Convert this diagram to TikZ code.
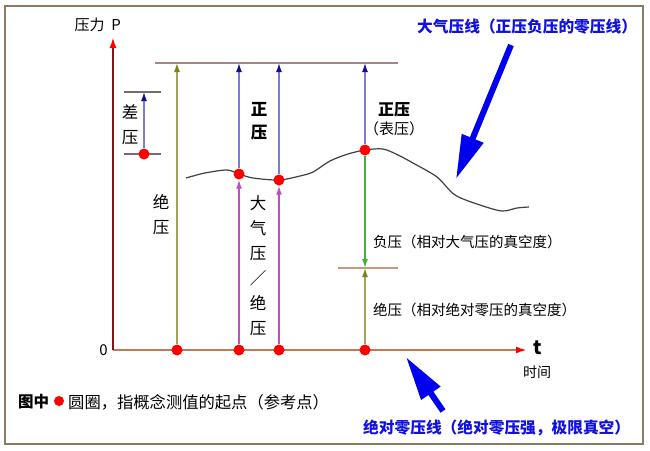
\documentclass[tikz,border=0pt]{standalone}
\usepackage{fontspec}
\setmainfont{Noto Sans CJK SC}
\usetikzlibrary{arrows.meta}
\definecolor{framec}{HTML}{8C7B62}
\definecolor{yaxc}{HTML}{8B1010}
\definecolor{xaxc}{HTML}{C87850}
\definecolor{topc}{HTML}{A08888}
\definecolor{bluel}{HTML}{7C7CD4}
\definecolor{blueh}{HTML}{101090}
\definecolor{magc}{HTML}{C050C0}
\definecolor{olivec}{HTML}{A8A060}
\definecolor{oliveh}{HTML}{808020}
\definecolor{greenc}{HTML}{40B040}
\definecolor{tickc}{HTML}{806868}
\definecolor{vtickc}{HTML}{C89878}
\definecolor{bigblue}{HTML}{0000F0}
\definecolor{labblue}{HTML}{1010E0}
\begin{document}
\begin{tikzpicture}[x=1pt,y=-1pt,
  dot/.style={circle,fill=red,draw=none,inner sep=0pt,minimum size=11pt},
  txt/.style={inner sep=0pt,font=\fontsize{15}{17}\selectfont},
  vtxt/.style={inner sep=0pt,align=center,font=\fontsize{16.5}{25}\selectfont},
  btxt/.style={inner sep=0pt,text=labblue,font=\fontsize{15.7}{18}\selectfont\bfseries},
  bluearr/.style={bluel,line width=1.4pt,-{Latex[length=9pt,width=6pt,color=blueh]}},
  magarr/.style={magc,line width=1.4pt,-{Latex[length=9pt,width=6pt]}},
  olivearr/.style={olivec,line width=1.4pt,-{Latex[length=9pt,width=6pt,color=oliveh]}},
  greenarr/.style={greenc,line width=1.4pt,-{Latex[length=9pt,width=6pt]}},
  bigarr/.style={bigblue,line width=6pt,-{Triangle[length=44pt,width=22pt]}},
  tickline/.style={tickc,line width=1.2pt}]
\useasboundingbox (0,0) rectangle (650,450);
\fill[white] (0,0) rectangle (650,450);
\draw[framec,line width=1.3pt] (5,6) rectangle (643,444);

% axes
\coordinate (O) at (113,350);
\coordinate (Ytop) at (113,37);
\coordinate (Xend) at (527,350);
\draw[xaxc,line width=2pt,-{Latex[length=11pt,width=7pt,color=red]}] (O) -- (Xend);
\draw[yaxc,line width=2pt,-{Latex[length=11pt,width=7pt,color=red]}] (O) -- (Ytop);
\node[txt,anchor=east] (yl) at (121,25) {压力\ \ P};
\node[txt,anchor=east] (zero) at (108,350) {0};
\node[inner sep=0pt,font=\fontsize{19}{20}\selectfont\bfseries] (tl) at (538,348) {t};
\node[inner sep=0pt,font=\fontsize{14}{16}\selectfont] (tlab) at (537,372) {时间};

% reference lines
\coordinate (TL) at (155,63);
\coordinate (TR) at (398,63);
\draw[topc,line width=1.4pt] (TL) -- (TR);
\coordinate (dA1) at (124,92);
\coordinate (dA2) at (161,92);
\coordinate (dB1) at (124,154);
\coordinate (dB2) at (161,154);
\draw[tickline] (dA1) -- (dA2);
\draw[tickline] (dB1) -- (dB2);
\coordinate (vL) at (338,268);
\coordinate (vR) at (398,268);
\draw[vtickc,line width=1.4pt] (vL) -- (vR);

% atmospheric curve
\draw[black!75,line width=1.2pt] plot[smooth,tension=0.5] coordinates {
 (186,178) (205,173) (227,170) (239,174) (253,178) (279,180) (300,176)
 (313,172) (330,161) (348,154) (365,150) (383,149) (398,155) (413,163)
 (437,177) (455,195) (480,205) (502,211) (517,208) (529,207)};

% top targets
\coordinate (t1) at (177,63);
\coordinate (t2) at (239,63);
\coordinate (t3) at (279,63);
\coordinate (t4) at (365,63);
\coordinate (dtop) at (144,92);
\coordinate (vmid) at (365,268);

% dots
\node[dot] (d1) at (144,154) {};
\node[dot] (d2) at (239,174) {};
\node[dot] (d3) at (279,180) {};
\node[dot] (d4) at (365,150) {};
\node[dot] (b1) at (177,350) {};
\node[dot] (b2) at (239,350) {};
\node[dot] (b3) at (279,350) {};
\node[dot] (b4) at (365,350) {};

% arrows
\draw[bluearr] (d1) -- (dtop);
\draw[olivearr] (b1) -- (t1);
\draw[bluearr] (d2) -- (t2);
\draw[bluearr] (d3) -- (t3);
\draw[bluearr] (d4) -- (t4);
\draw[magarr] (b2) -- (d2);
\draw[magarr] (b3) -- (d3);
\draw[greenarr] (d4) -- (vmid);
\draw[olivearr] (b4) -- (vmid);

% labels
\node[vtxt] (lcha) at (130,124.5) {差\\压};
\node[vtxt] (ljue) at (161,214.5) {绝\\压};
\node[vtxt,font=\fontsize{16.5}{23}\selectfont\bfseries] (lzheng) at (259,121.5) {正\\压};
\node[vtxt] (latm) at (258,265.5) {大\\气\\压\\／\\绝\\压};
\node[txt,font=\fontsize{16}{17}\selectfont\bfseries] (lz2) at (394,110) {正压};
\node[txt] (lbiao) at (394,129) {（表压）};
\node[txt,anchor=west,font=\fontsize{14.5}{17}\selectfont] (lneg) at (373,242) {负压（相对大气压的真空度）};
\node[txt,anchor=west,font=\fontsize{14.5}{17}\selectfont] (labs) at (373,310) {绝压（相对绝对零压的真空度）};

% legend
\node[txt,anchor=west,font=\fontsize{15.5}{17}\selectfont\bfseries] (leg1) at (18,402) {图中};
\node[dot,minimum size=10pt] (legdot) at (59,401) {};
\node[txt,anchor=west,font=\fontsize{16.3}{17}\selectfont] (leg2) at (68,402) {圆圈，指概念测值的起点（参考点）};

% blue callouts
\node[btxt,anchor=west] (atmlab) at (417,27) {大气压线（正压负压的零压线）};
\node[btxt,anchor=west] (zerolab) at (363,428) {绝对零压线（绝对零压强，极限真空）};
\coordinate (ua1) at (511,45);
\coordinate (ua2) at (456,179);
\draw[bigarr] (ua1) -- (ua2);
\coordinate (la1) at (443,411);
\coordinate (la2) at (406,357);
\draw[bigarr] (la1) -- (la2);
\end{tikzpicture}
\end{document}
